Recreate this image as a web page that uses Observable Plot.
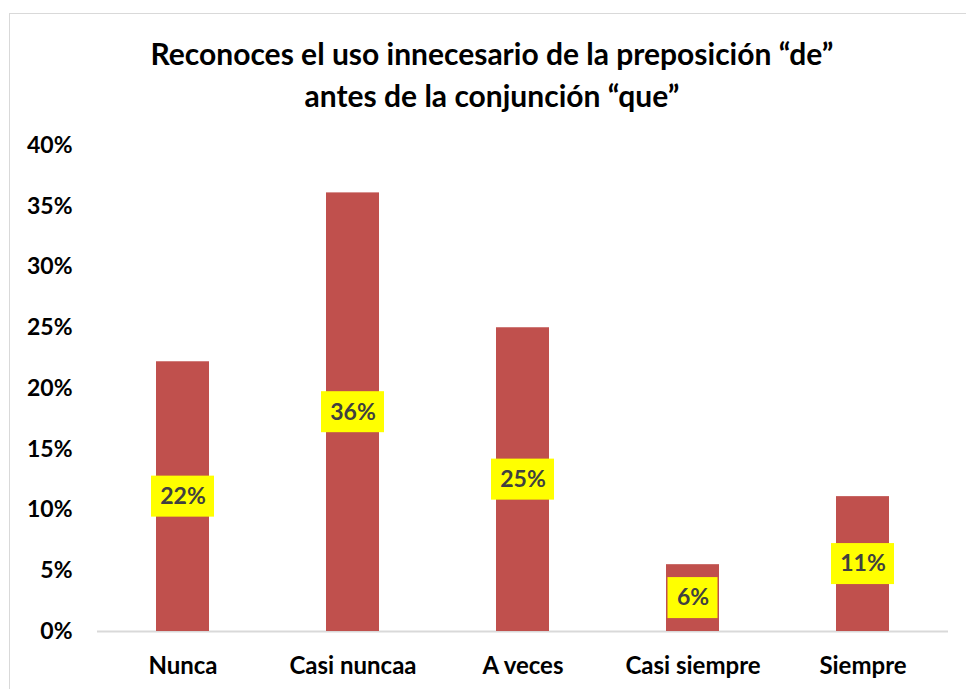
<!DOCTYPE html>
<html>
<head>
<meta charset="utf-8">
<script src="https://cdn.jsdelivr.net/npm/d3@7"></script>
<script src="https://cdn.jsdelivr.net/npm/@observablehq/plot@0.6"></script>
<style>
  html, body { margin: 0; padding: 0; background: #fff; }
  #page { position: relative; width: 966px; height: 689px; overflow: hidden; font-family: Lato, "Open Sans", sans-serif; }
  #frame { position: absolute; left: 9px; top: 13px; width: 970px; height: 690px; border: 1px solid #d9d9d9; box-sizing: border-box; }
  #title { position: absolute; left: 0; top: 32px; width: 984px; text-align: center; font-weight: bold; font-size: 30px; line-height: 42px; color: #000; }
  #chart { position: absolute; left: 0; top: 120px; }
</style>
</head>
<body>
<div id="page">
  <div id="frame"></div>
  <div id="title">Reconoces el uso innecesario de la preposición “de”<br>antes de la conjunción “que”</div>
  <div id="chart"></div>
</div>
<script>
const categories = ["Nunca", "Casi nuncaa", "A veces", "Casi siempre", "Siempre"];
const values = [0.222, 0.361, 0.250, 0.055, 0.111];
const labels = ["22%", "36%", "25%", "6%", "11%"];
const yTicks = [0, 0.05, 0.10, 0.15, 0.20, 0.25, 0.30, 0.35, 0.40];

const data = categories.map((c, i) => ({ cat: c, v: values[i], mid: values[i] / 2, label: labels[i] }));
const wide = data.filter(d => d.label.length > 2);
const narrow = data.filter(d => d.label.length <= 2);

const chart = Plot.plot({
  width: 966,
  height: 569,
  marginTop: 25,
  marginBottom: 58,
  marginLeft: 97,
  marginRight: 18,
  style: { fontFamily: "Lato, 'Open Sans', sans-serif", fontWeight: "bold", fontSize: "24px", color: "#000", background: "transparent" },
  x: { domain: categories, paddingInner: 0.69, paddingOuter: 0.345, label: null, tickSize: 0, tickPadding: 25 },
  y: { domain: [0, 0.4], ticks: yTicks, tickFormat: d3.format(".0%"), label: null, tickSize: 0, tickPadding: 25 },
  marks: [
    Plot.axisY({ ticks: yTicks, tickFormat: d3.format(".0%"), tickSize: 0, tickPadding: 25, fontSize: 23, label: null }),
    Plot.axisX({ tickSize: 0, tickPadding: 25, fontSize: 24, label: null }),
    Plot.ruleY([0], { stroke: "#d9d9d9", strokeWidth: 2 }),
    Plot.barY(data, { x: "cat", y: "v", fill: "#c0504d" }),
    Plot.barY(wide, { x: "cat", y1: "mid", y2: "mid", fill: "#ffff00", insetLeft: -5, insetRight: -5, insetTop: -20.5, insetBottom: -20.5 }),
    Plot.barY(narrow, { x: "cat", y1: "mid", y2: "mid", fill: "#ffff00", insetLeft: 1.5, insetRight: 1.5, insetTop: -20.5, insetBottom: -20.5 }),
    Plot.text(data, { x: "cat", y: "mid", text: "label", fill: "#404040", fontSize: 23, fontWeight: "bold" })
  ]
});
document.getElementById("chart").appendChild(chart);
</script>
</body>
</html>
